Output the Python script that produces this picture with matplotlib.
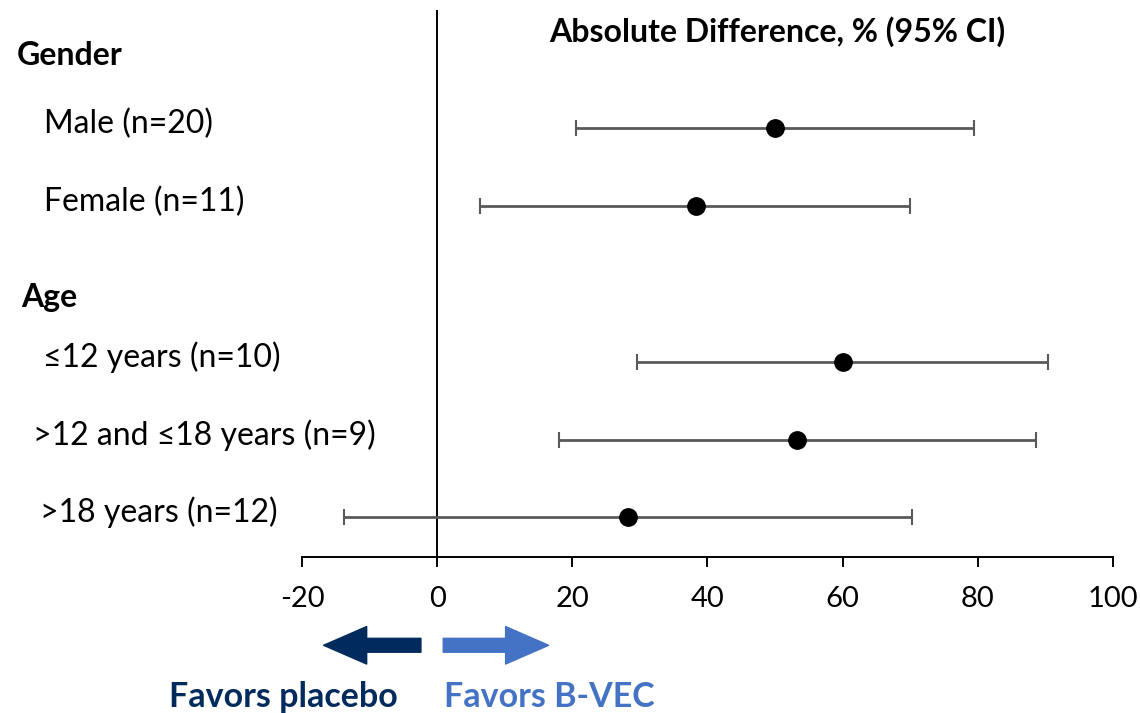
import numpy as np
import matplotlib
matplotlib.use("Agg")
import matplotlib.pyplot as plt
from matplotlib.patches import FancyArrowPatch
from matplotlib.transforms import blended_transform_factory

plt.rcParams['font.family'] = ['Lato', 'DejaVu Sans']

# subgroup data: point estimate and 95% CI (absolute difference, %)
labels = ['Male (n=20)', 'Female (n=11)', '\u226412 years (n=10)',
          '>12 and \u226418 years (n=9)', '>18 years (n=12)']
rows = [0, 1, 3, 4, 5]
estimate = [50.0, 38.3, 60.0, 53.3, 28.3]
ci_low = [20.6, 6.3, 29.6, 18.0, -13.8]
ci_high = [79.4, 70.0, 90.4, 88.6, 70.3]
label_x = [0.039, 0.039, 0.038, 0.029, 0.035]

headers = ['Gender', 'Age']
header_rows = [-0.94, 2.17]
header_x = [0.015, 0.019]

xticks = [-20, 0, 20, 40, 60, 80, 100]

fig = plt.figure(figsize=(11.4, 7.13), dpi=100)
ax = fig.add_axes([0.2649, 0.2188, 0.7114, 0.767])

est = np.array(estimate)
err = np.array([est - np.array(ci_low), np.array(ci_high) - est])
ax.errorbar(est, rows, xerr=err, fmt='none', ecolor='#595959', elinewidth=2,
            capsize=5.5, capthick=1.5, zorder=2)
ax.plot(est, rows, 'o', color='black', markersize=12.5, zorder=3)

ax.axvline(0, color='black', lw=1.4, zorder=1)

ax.set_xlim(-20, 100)
ax.set_ylim(5.51, -1.52)
ax.set_xticks(xticks)
ax.set_xticklabels([str(t) for t in xticks], fontsize=21)
ax.set_yticks([])
for s in ['top', 'right', 'left']:
    ax.spines[s].set_visible(False)
ax.spines['bottom'].set_linewidth(1.4)
ax.tick_params(axis='x', direction='out', length=7, width=1.4, pad=14)

ax.text(0.586, 0.988, 'Absolute Difference, % (95% CI)', transform=ax.transAxes,
        ha='center', va='top', fontsize=23, fontweight='bold')

trans = blended_transform_factory(fig.transFigure, ax.transData)
for lab, r, x in zip(labels, rows, label_x):
    ax.text(x, r - 0.06, lab, transform=trans, ha='left', va='center',
            fontsize=23, clip_on=False)
for lab, r, x in zip(headers, header_rows, header_x):
    ax.text(x, r, lab, transform=trans, ha='left', va='center',
            fontsize=23, fontweight='bold', clip_on=False)

# direction arrows under the axis
arrow_y = 6.645
style = 'simple,head_length=31,head_width=27,tail_width=10'
ax.add_patch(FancyArrowPatch((-2.4, arrow_y), (-16.8, arrow_y), arrowstyle=style,
                             mutation_scale=1, color='#002B5C', shrinkA=0, shrinkB=0,
                             clip_on=False))
ax.add_patch(FancyArrowPatch((0.9, arrow_y), (16.5, arrow_y), arrowstyle=style,
                             mutation_scale=1, color='#4472C4', shrinkA=0, shrinkB=0,
                             clip_on=False))

fig.text(0.249, 0.022, 'Favors placebo', ha='center', va='center', fontsize=24.5,
         fontweight='bold', color='#002B5C')
fig.text(0.482, 0.022, 'Favors B-VEC', ha='center', va='center', fontsize=24.5,
         fontweight='bold', color='#4472C4')

fig.savefig('out.png', dpi=100)
